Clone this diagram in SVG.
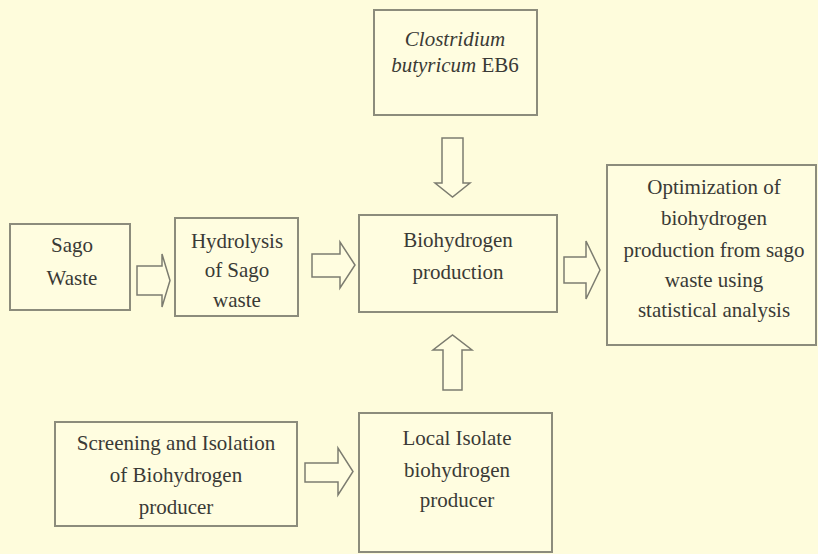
<svg xmlns="http://www.w3.org/2000/svg" width="818" height="554" viewBox="0 0 818 554">
<style>
.box{fill:#FFFDE0;stroke:#8c8c7c;stroke-width:2}
.arr{fill:#FFFDE0;stroke:#7c7c70;stroke-width:1.5;stroke-linejoin:miter}
</style>
<rect width="818" height="554" fill="#FEFCDC"/>
<g font-family="Liberation Serif, DejaVu Serif, Times New Roman, serif" font-size="21" fill="#3a3a36" text-anchor="middle">
<g id="clostridium">
<rect class="box" x="374" y="10" width="163" height="105"/>
<text x="455" y="46" font-style="italic">Clostridium</text>
<text x="455" y="72"><tspan font-style="italic">butyricum</tspan> EB6</text>
</g>
<g id="sago-waste">
<rect class="box" x="10" y="224" width="120" height="86"/>
<text x="72" y="252">Sago</text>
<text x="72" y="285">Waste</text>
</g>
<g id="hydrolysis">
<rect class="box" x="175" y="218" width="123" height="98"/>
<text x="237" y="248">Hydrolysis</text>
<text x="237" y="277">of Sago</text>
<text x="237" y="307">waste</text>
</g>
<g id="biohydrogen-production">
<rect class="box" x="359" y="215" width="198" height="97"/>
<text x="458" y="247">Biohydrogen</text>
<text x="458" y="279">production</text>
</g>
<g id="optimization">
<rect class="box" x="607" y="165" width="209" height="180"/>
<text x="714" y="194">Optimization of</text>
<text x="714" y="225">biohydrogen</text>
<text x="714" y="257">production from sago</text>
<text x="714" y="287">waste using</text>
<text x="714" y="317">statistical analysis</text>
</g>
<g id="screening">
<rect class="box" x="55" y="422" width="242" height="104"/>
<text x="176" y="450">Screening and Isolation</text>
<text x="176" y="482">of Biohydrogen</text>
<text x="176" y="514">producer</text>
</g>
<g id="local-isolate">
<rect class="box" x="359" y="413" width="193" height="139"/>
<text x="457" y="445">Local Isolate</text>
<text x="457" y="477">biohydrogen</text>
<text x="457" y="507">producer</text>
</g>
</g>
<g id="connectors">
<polygon class="arr" points="442,138 463,138 463,183 470,183 452.5,197 435,183 442,183"/>
<polygon class="arr" points="137,266 162,266 162,254 170,280.5 162,307 162,295 137,295"/>
<polygon class="arr" points="312,254 340,254 340,242 355,265 340,288 340,277 312,277"/>
<polygon class="arr" points="564,257 586,257 586,241 600,270 586,299 586,283 564,283"/>
<polygon class="arr" points="443,390 462,390 462,350 472,350 452.5,335 433,350 443,350"/>
<polygon class="arr" points="305,463 338,463 338,448 353,471.5 338,495 338,482 305,482"/>
</g>
</svg>
